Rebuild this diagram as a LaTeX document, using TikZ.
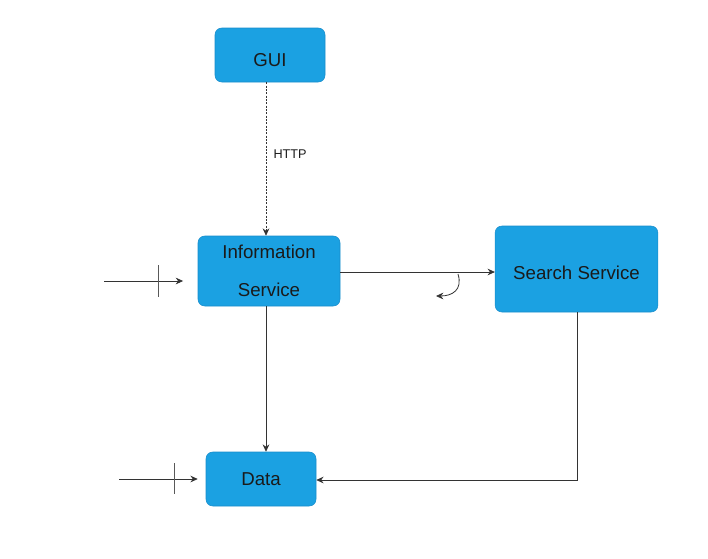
\documentclass[tikz,border=0pt]{standalone}
\usepackage{fontspec}
\setmainfont{Liberation Sans}
\usetikzlibrary{arrows.meta,positioning}
\definecolor{boxblue}{HTML}{1BA1E2}
\definecolor{boxedge}{HTML}{1A8DCB}
\definecolor{txtdark}{HTML}{1A1A1A}

\begin{document}
\begin{tikzpicture}[x=0.75pt, y=-0.75pt,
  svc/.style={draw=boxedge, fill=boxblue, rounded corners=5pt, align=center,
              text=txtdark, font=\fontsize{14}{16}\selectfont, inner sep=0pt},
  arr/.style={-{Stealth[length=5.5pt, width=5pt]}, black!80, line width=0.6pt},
  tick/.style={black!65, line width=0.6pt}
]
  \useasboundingbox (0,0) rectangle (708,558);
  % Boxes
  \node[svc, minimum width=82.5pt, minimum height=40.5pt] (gui) at (270,55)
    {\raisebox{-8.5pt}[0pt][0pt]{GUI}};
  \node[svc, minimum width=106.5pt, minimum height=52.5pt] (info) at (269,271)
    {\raisebox{1.5pt}{Information}\\[10.75pt]Service};
  \node[svc, minimum width=122pt, minimum height=64.5pt] (search) at (576.5,269)
    {\raisebox{-8pt}[0pt][0pt]{Search Service}};
  \node[svc, minimum width=82.5pt, minimum height=40.5pt] (data) at (261,479) {Data};
  % Free ends
  \coordinate (inA) at (104,281);
  \coordinate (inB) at (119,479);
  \coordinate (turn) at (458,274);
  \coordinate (back) at (436,296);
  \coordinate (corner) at (577,480);
  % Flow
  \draw[arr, dash pattern=on 1.5pt off 1pt] (gui.south -| 266,0) -- (info.north -| 266,0)
    node[pos=0.47, right=2pt, font=\fontsize{9.5}{11}\selectfont, text=txtdark] (http) {HTTP};
  \draw[arr] (info.east |- 0,272) -- (search.west |- 0,272);
  \draw[arr] (turn) .. controls (463,290) and (452,296) .. (back);
  \draw[arr] (info.south -| 266,0) -- (data.north -| 266,0);
  \draw[arr] (search.south -| corner) -- (corner) -- (data.east |- corner);
  \draw[arr, shorten >=11pt] (inA) -- (info.west |- inA);
  \draw[arr, shorten >=6pt] (inB) -- (data.west |- inB);
  \draw[tick] (158,265) -- (158,297);
  \draw[tick] (174,463) -- (174,494);
\end{tikzpicture}
\end{document}
